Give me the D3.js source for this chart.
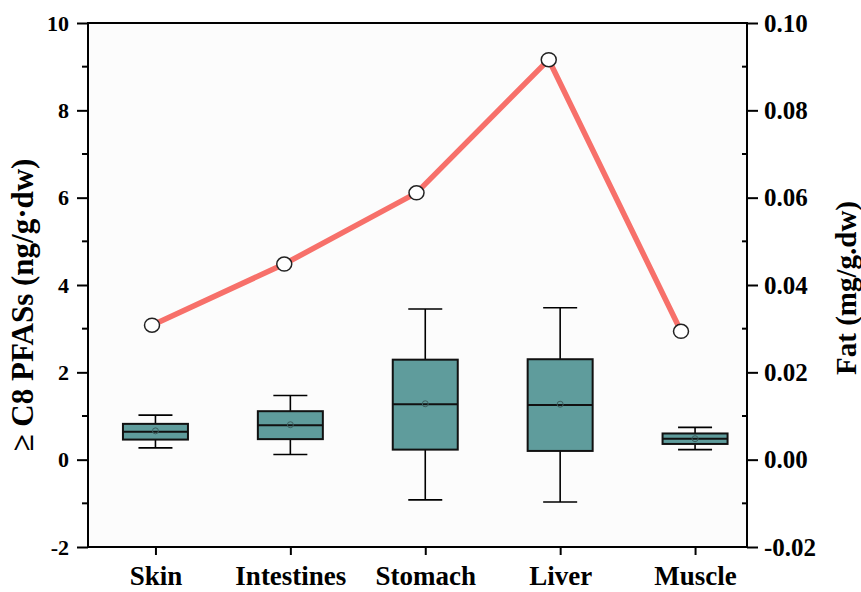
<!DOCTYPE html>
<html>
<head>
<meta charset="utf-8">
<script src="https://cdn.jsdelivr.net/npm/d3@7"></script>
<style>
	body { margin: 0; background: #fff; }
	svg text { font-family: "Liberation Serif", "Times New Roman", serif; font-weight: bold; fill: #000; }
</style>
</head>
<body>
<div id="chart"></div>
<script>
// data
const tissues = ['Skin', 'Intestines', 'Stomach', 'Liver', 'Muscle'];
const whiskerLow = [0.27, 0.12, -0.92, -0.97, 0.23];
const q1 = [0.46, 0.47, 0.23, 0.20, 0.36];
const median = [0.64, 0.79, 1.27, 1.25, 0.48];
const q3 = [0.82, 1.11, 2.29, 2.30, 0.60];
const whiskerHigh = [1.02, 1.47, 3.45, 3.48, 0.74];
const mean = [0.66, 0.80, 1.28, 1.27, 0.48];
const fat = [0.0308, 0.0448, 0.0611, 0.0916, 0.0294];
const leftTicks = [-2, 0, 2, 4, 6, 8, 10];
const rightTicks = [-0.02, 0, 0.02, 0.04, 0.06, 0.08, 0.10];

const W = 861, H = 592;
const plotL = 88, plotR = 747, plotT = 23, plotB = 547;

const svg = d3.select('#chart').append('svg')
	.attr('width', W)
	.attr('height', H)
	.attr('viewBox', `0 0 ${W} ${H}`);

const x = d3.scaleLinear().domain([0.5, 5.385]).range([plotL, plotR]);
// the line layer sits on a slightly narrower x range in the original
const xLine = d3.scaleLinear().domain([1, 5]).range([152, 681]);
const y = d3.scaleLinear().domain([-2, 10]).range([plotB, plotT]);
const yFat = d3.scaleLinear().domain([-0.02, 0.10]).range([plotB, plotT]);

// plain hyphen for negatives, like the original
const hyphen = f => d => f(d).replace('\u2212', '-');

svg.append('rect')
	.attr('x', plotL).attr('y', plotT)
	.attr('width', plotR - plotL).attr('height', plotB - plotT)
	.attr('fill', '#fcfcfc');

// boxes
const boxW = 65, capW = 34;
const box = svg.selectAll('.box')
	.data(tissues)
	.enter()
	.append('g')
	.attr('class', 'box')
	.attr('transform', (d, i) => `translate(${x(i + 1)},0)`);

box.append('line')
	.attr('x1', 0).attr('x2', 0)
	.attr('y1', (d, i) => y(whiskerHigh[i]))
	.attr('y2', (d, i) => y(q3[i]))
	.attr('stroke', '#000').attr('stroke-width', 1.6);
box.append('line')
	.attr('x1', 0).attr('x2', 0)
	.attr('y1', (d, i) => y(q1[i]))
	.attr('y2', (d, i) => y(whiskerLow[i]))
	.attr('stroke', '#000').attr('stroke-width', 1.6);
box.append('line')
	.attr('x1', -capW / 2).attr('x2', capW / 2)
	.attr('y1', (d, i) => y(whiskerHigh[i]))
	.attr('y2', (d, i) => y(whiskerHigh[i]))
	.attr('stroke', '#000').attr('stroke-width', 1.6);
box.append('line')
	.attr('x1', -capW / 2).attr('x2', capW / 2)
	.attr('y1', (d, i) => y(whiskerLow[i]))
	.attr('y2', (d, i) => y(whiskerLow[i]))
	.attr('stroke', '#000').attr('stroke-width', 1.6);
box.append('rect')
	.attr('x', -boxW / 2)
	.attr('width', boxW)
	.attr('y', (d, i) => y(q3[i]))
	.attr('height', (d, i) => y(q1[i]) - y(q3[i]))
	.attr('fill', '#5f9c9c')
	.attr('stroke', '#111').attr('stroke-width', 2);
box.append('line')
	.attr('x1', -boxW / 2).attr('x2', boxW / 2)
	.attr('y1', (d, i) => y(median[i]))
	.attr('y2', (d, i) => y(median[i]))
	.attr('stroke', '#111').attr('stroke-width', 2);
box.append('circle')
	.attr('cx', 0)
	.attr('cy', (d, i) => y(mean[i]))
	.attr('r', 3)
	.attr('fill', 'none')
	.attr('stroke', '#3d5f5f').attr('stroke-width', 1);

// fat line
const line = d3.line()
	.x((d, i) => xLine(i + 1))
	.y(d => yFat(d));
svg.append('path')
	.datum(fat)
	.attr('d', line)
	.attr('fill', 'none')
	.attr('stroke', '#f7706a')
	.attr('stroke-width', 5.5);
svg.selectAll('.dot')
	.data(fat)
	.enter()
	.append('ellipse')
	.attr('class', 'dot')
	.attr('cx', (d, i) => xLine(i + 1))
	.attr('cy', d => yFat(d))
	.attr('rx', 7.5).attr('ry', 7)
	.attr('fill', '#fff')
	.attr('stroke', '#222').attr('stroke-width', 1.5);

// frame
svg.append('rect')
	.attr('x', plotL).attr('y', plotT)
	.attr('width', plotR - plotL).attr('height', plotB - plotT)
	.attr('fill', 'none')
	.attr('stroke', '#000').attr('stroke-width', 2);

// left axis
const yAxis = svg.append('g')
	.attr('transform', `translate(${plotL},0)`)
	.call(d3.axisLeft(y).tickValues(leftTicks).tickSize(11).tickPadding(8).tickFormat(hyphen(d3.format('d'))));
yAxis.append('g').selectAll('line')
	.data(d3.range(-1, 10, 2))
	.enter().append('line')
	.attr('x1', -6).attr('x2', 0)
	.attr('y1', d => y(d)).attr('y2', d => y(d));

// right axis
const fatAxis = svg.append('g')
	.attr('transform', `translate(${plotR},0)`)
	.call(d3.axisRight(yFat).tickValues(rightTicks).tickSize(11).tickPadding(6).tickFormat(hyphen(d3.format('.2f'))));
fatAxis.append('g').selectAll('line')
	.data([-0.01, 0.01, 0.03, 0.05, 0.07, 0.09])
	.enter().append('line')
	.attr('x1', -5).attr('x2', 0)
	.attr('y1', d => yFat(d)).attr('y2', d => yFat(d));

// bottom axis
const xAxis = svg.append('g')
	.attr('transform', `translate(0,${plotB})`)
	.call(d3.axisBottom(x).tickValues([1, 2, 3, 4, 5]).tickSize(8).tickPadding(11).tickFormat((d, i) => tissues[i]));

[yAxis, fatAxis, xAxis].forEach(a => {
	a.select('.domain').remove();
	a.selectAll('line').attr('stroke', '#000').attr('stroke-width', 2);
});
yAxis.selectAll('text').style('font-size', '22px');
fatAxis.selectAll('text').style('font-size', '25px');
xAxis.selectAll('text').style('font-size', '27px');

// axis titles
svg.append('text')
	.attr('transform', 'translate(33,305) rotate(-90)')
	.attr('text-anchor', 'middle')
	.style('font-size', '31px')
	.text('≥ C8 PFASs (ng/g·dw)');
svg.append('text')
	.attr('transform', 'translate(856,288) rotate(-90)')
	.attr('text-anchor', 'middle')
	.style('font-size', '29px')
	.text('Fat (mg/g.dw)');
</script>
</body>
</html>
